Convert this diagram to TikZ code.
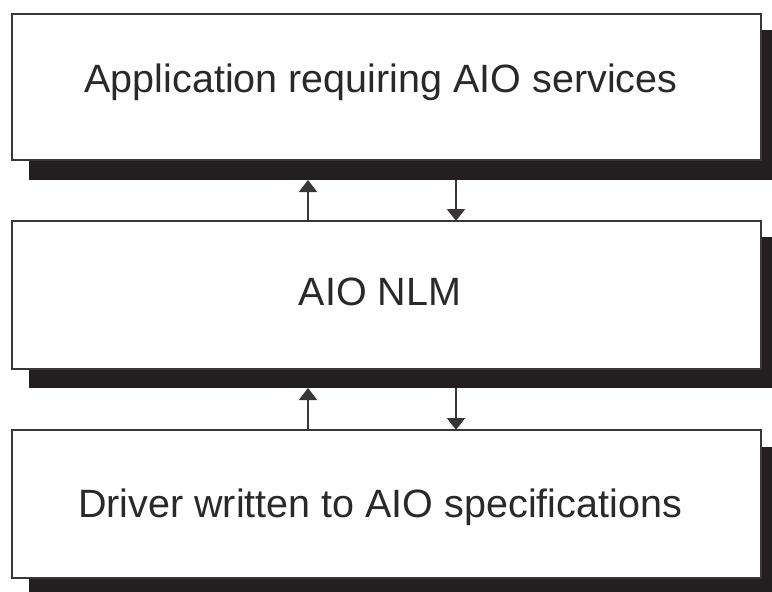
\documentclass[tikz,border=0pt]{standalone}
\usepackage{fontspec}
\setmainfont{Liberation Sans}
\usetikzlibrary{arrows.meta}
\definecolor{shadowc}{HTML}{231F20}
\definecolor{edgec}{HTML}{3A3637}
\definecolor{textc}{HTML}{2B2829}
\tikzset{
  box/.style={draw=edgec, line width=2pt, fill=white, minimum width=749pt, inner sep=0pt, outer sep=0pt},
  shadowbox/.style={fill=shadowc, draw=none, minimum width=761pt, inner sep=0pt, outer sep=0pt},
  lbl/.style={anchor=base, text=textc, inner sep=0pt, font=\fontsize{39.5}{46}\selectfont},
  flow/.style={draw=edgec, line width=2pt, -{Triangle[length=12pt,width=18pt]}}
}
\begin{document}
\begin{tikzpicture}[x=1pt,y=-1pt]
\useasboundingbox (0,0) rectangle (772,592);
\clip (0,0) rectangle (772,592);
\fill[white] (0,0) rectangle (772,592);
% shadows
\node[shadowbox, minimum height=150pt] (s1) at (409.5,105) {};
\node[shadowbox, minimum height=151pt] (s2) at (409.5,312.5) {};
\node[shadowbox, minimum height=153pt] (s3) at (409.5,523.5) {};
% boxes
\node[box, minimum height=146pt] (b1) at (386.5,87) {};
\node[box, minimum height=148pt] (b2) at (386.5,295) {};
\node[box, minimum height=148pt] (b3) at (386.5,504) {};
% labels
\node[lbl] (t1) at (381,92) {Application requiring AIO services};
\node[lbl] (t2) at (380,305) {AIO NLM};
\node[lbl] (t3) at (380,517) {Driver written to AIO specifications};
% arrows
\coordinate (xl) at (308,0);
\coordinate (xr) at (456,0);
\draw[flow] (b2.north -| xl) -- (s1.south -| xl);
\draw[flow] (s1.south -| xr) -- (b2.north -| xr);
\draw[flow] (b3.north -| xl) -- (s2.south -| xl);
\draw[flow] (s2.south -| xr) -- (b3.north -| xr);
\end{tikzpicture}
\end{document}
